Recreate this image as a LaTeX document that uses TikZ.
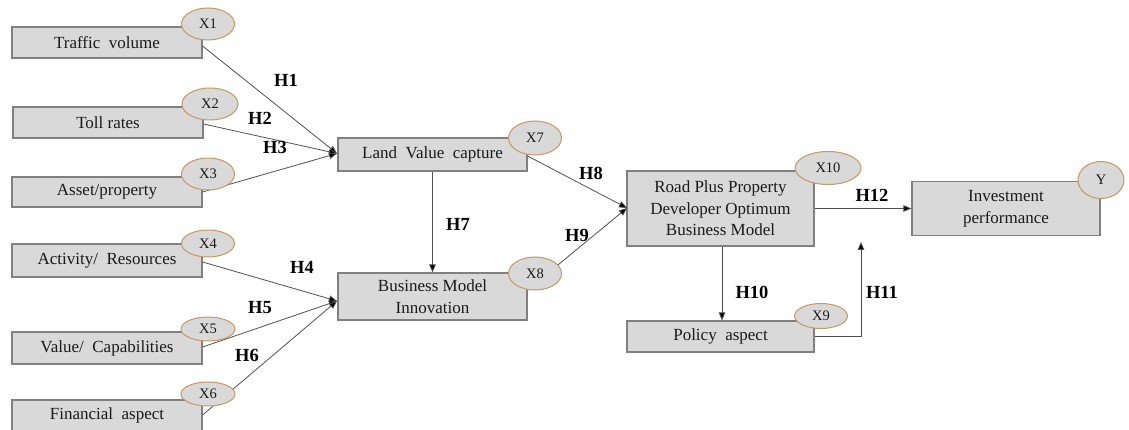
\documentclass[tikz,border=0pt]{standalone}
\usepackage{fontspec}
\setmainfont{Liberation Serif}
\usetikzlibrary{shapes.geometric,arrows.meta}
\definecolor{boxfill}{HTML}{D9D9D9}
\definecolor{boxline}{HTML}{808080}
\definecolor{ellline}{HTML}{C9975F}
\definecolor{conn}{HTML}{505050}
\definecolor{txt}{HTML}{1A1A1A}
\begin{document}
\begin{tikzpicture}[x=1pt,y=-1pt,
  varbox/.style={draw=boxline,fill=boxfill,line width=1.1pt,minimum width=190pt,inner sep=0pt,
    text=txt,font=\fontsize{17}{21.5}\selectfont,align=center},
  tag/.style={ellipse,draw=ellline,fill=boxfill,line width=1pt,inner sep=0pt,
    text=txt,font=\fontsize{14.5}{16}\selectfont},
  link/.style={draw=conn,line width=0.8pt,-{Triangle[length=8pt,width=6.5pt,fill=black]}},
  hlab/.style={font=\bfseries\fontsize{18.5}{20}\selectfont,text=black}]
\useasboundingbox (0,0) rectangle (1129,430);
% boxes
\node[varbox,minimum height=31pt] (tv) at (107,42.5) {Traffic\ \ volume};
\node[varbox,minimum height=31pt] (tr) at (108,122.5) {Toll rates};
\node[varbox,minimum height=30pt] (ap) at (107,192) {Asset/property};
\node[varbox,minimum height=33pt] (ar) at (107,260.5) {Activity/\ \ Resources};
\node[varbox,minimum height=32pt] (vc) at (107,348) {Value/\ \ Capabilities};
\node[varbox,minimum height=31pt] (fa) at (107,415.5) {Financial\ \ aspect};
\node[varbox,minimum width=189pt,minimum height=33pt] (lvc) at (432.5,154.5) {Land\ \ Value\ \ capture};
\node[varbox,minimum width=189pt,minimum height=47pt] (bmi) at (432.5,296.5) {Business Model\\Innovation};
\node[varbox,minimum width=187pt,minimum height=75pt] (rpp) at (720.5,208.5) {Road Plus Property\\Developer Optimum\\Business Model};
\node[varbox,minimum width=187pt,minimum height=31pt] (pa) at (720.5,336.5) {Policy\ \ aspect};
\node[varbox,minimum width=188pt,minimum height=54pt] (ip) at (1006,208.5) {Investment\\performance};
% connector ends
\coordinate (lvcin) at (337,153.5);
\coordinate (bmiin) at (337,301);
\coordinate (rppin) at (627,208);
\coordinate (h11end) at (861,242);
% connectors
\draw[link] (tv.east |- 0,46) -- (lvcin);
\draw[link] (tr.east |- 0,124) -- (lvcin);
\draw[link] (ap.east) -- (lvcin);
\draw[link] (ar.east |- 0,262) -- (bmiin);
\draw[link] (vc.east |- 0,347) -- (bmiin);
\draw[link] (fa.east |- 0,415) -- (bmiin);
\draw[link] (lvc.south) -- (bmi.north);
\draw[link] (lvc.east |- 0,156) -- (rppin);
\draw[link] (bmi.east |- 0,290) -- (rppin);
\draw[link] (rpp.east) -- (ip.west);
\draw[link] ([xshift=1.5pt]rpp.south) -- ([xshift=1.5pt]pa.north);
\draw[link] (pa.east) -| (h11end);
% tags
\node[tag,minimum width=53pt,minimum height=32pt] (x1) at (208,24) {X1};
\node[tag,minimum width=56pt,minimum height=32pt] (x2) at (210,104) {X2};
\node[tag,minimum width=53pt,minimum height=32pt] (x3) at (208,174) {X3};
\node[tag,minimum width=53pt,minimum height=27pt] (x4) at (208,243.5) {X4};
\node[tag,minimum width=54pt,minimum height=24pt] (x5) at (208,329) {X5};
\node[tag,minimum width=54pt,minimum height=24pt] (x6) at (208,394) {X6};
\node[tag,minimum width=53pt,minimum height=34pt] (x7) at (535,138) {X7};
\node[tag,minimum width=53pt,minimum height=33pt] (x8) at (535,273.5) {X8};
\node[tag,minimum width=53pt,minimum height=25pt] (x9) at (821,316) {X9};
\node[tag,minimum width=66pt,minimum height=33pt] (x10) at (828,168) {X10};
\node[tag,minimum width=46pt,minimum height=37pt] (y) at (1101,180) {Y};
% hypothesis labels
\node[hlab] (h1) at (286,80) {H1};
\node[hlab] (h2) at (260,118) {H2};
\node[hlab] (h3) at (275,147) {H3};
\node[hlab] (h4) at (302,267) {H4};
\node[hlab] (h5) at (260,308) {H5};
\node[hlab] (h6) at (247,355) {H6};
\node[hlab] (h7) at (458,224) {H7};
\node[hlab] (h8) at (591,173) {H8};
\node[hlab] (h9) at (577,235) {H9};
\node[hlab] (h10) at (752,292) {H10};
\node[hlab] (h11) at (882,292) {H11};
\node[hlab] (h12) at (872,195) {H12};
\end{tikzpicture}
\end{document}
